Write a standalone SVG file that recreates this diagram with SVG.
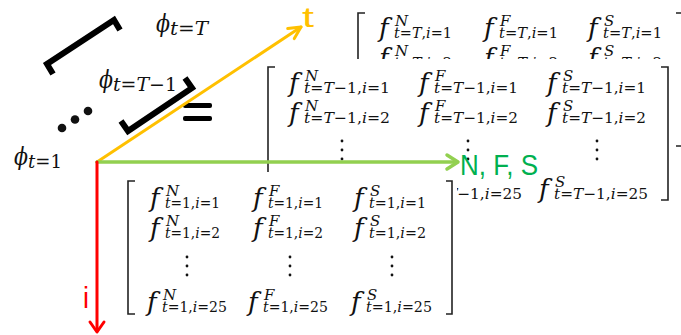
<svg xmlns="http://www.w3.org/2000/svg" width="681" height="335" viewBox="0 0 681 335">
<defs>
<style>
.f{font-family:"DejaVu Serif","Liberation Serif",serif;font-style:italic;font-size:26px;fill:#111}
.sc{font-family:"DejaVu Serif","Liberation Serif",serif;font-size:15px;fill:#111}
.ps{font-family:"DejaVu Serif","Liberation Serif",serif;font-size:19px;fill:#111}
.phi{font-family:"DejaVu Serif","Liberation Serif",serif;font-style:italic;font-size:25px;fill:#111}
.it{font-style:italic}
.br{fill:none;stroke:#222;stroke-width:1.6}
.big{fill:none;stroke:#000;stroke-width:6;stroke-linejoin:miter}
.dot{fill:#111}
.bg{fill:#fff}
.lab{font-family:"Liberation Sans","Open Sans",sans-serif}
</style>
</defs>
<rect width="681" height="335" fill="#fff"/>

<g id="stack">
<text class="phi" x="156" y="32" textLength="14" lengthAdjust="spacingAndGlyphs">ϕ</text><text class="ps" x="170" y="35" textLength="38" lengthAdjust="spacingAndGlyphs"><tspan class="it">t</tspan>=<tspan class="it">T</tspan></text>
<text class="phi" x="99" y="88" textLength="14" lengthAdjust="spacingAndGlyphs">ϕ</text><text class="ps" x="113" y="91" textLength="64" lengthAdjust="spacingAndGlyphs"><tspan class="it">t</tspan>=<tspan class="it">T</tspan>−1</text>
<text class="phi" x="14" y="165" textLength="14" lengthAdjust="spacingAndGlyphs">ϕ</text><text class="ps" x="28" y="168" textLength="34" lengthAdjust="spacingAndGlyphs"><tspan class="it">t</tspan>=1</text>
<polyline class="big" points="53,74 47,64 114,20 120,30"/>
<polyline class="big" points="121,121 128,131 192,88 185,78"/>
<circle class="dot" cx="62" cy="128" r="4.3"/>
<circle class="dot" cx="75" cy="119.5" r="4.3"/>
<circle class="dot" cx="88" cy="111" r="4.3"/>
<rect x="183" y="103" width="29" height="5" rx="2" fill="#000"/>
<rect x="183" y="116" width="29" height="5" rx="2" fill="#000"/>
</g>

<g id="matrix-T">
<path class="br" d="M365,13 H358 V146 H365"/>
<path class="br" d="M676,13 H682 V146 H676"/>
<text class="f" x="379" y="37">f</text><text class="sc it" x="395" y="26">N</text><text class="sc" x="394" y="38" textLength="58" lengthAdjust="spacingAndGlyphs"><tspan class="it">t</tspan>=<tspan class="it">T</tspan>,<tspan class="it">i</tspan>=1</text>
<text class="f" x="484" y="37">f</text><text class="sc it" x="500" y="26">F</text><text class="sc" x="499" y="38" textLength="59" lengthAdjust="spacingAndGlyphs"><tspan class="it">t</tspan>=<tspan class="it">T</tspan>,<tspan class="it">i</tspan>=1</text>
<text class="f" x="588" y="37">f</text><text class="sc it" x="604" y="26">S</text><text class="sc" x="603" y="38" textLength="59" lengthAdjust="spacingAndGlyphs"><tspan class="it">t</tspan>=<tspan class="it">T</tspan>,<tspan class="it">i</tspan>=1</text>
<text class="f" x="379" y="67">f</text><text class="sc it" x="395" y="56">N</text><text class="sc" x="394" y="68" textLength="58" lengthAdjust="spacingAndGlyphs"><tspan class="it">t</tspan>=<tspan class="it">T</tspan>,<tspan class="it">i</tspan>=2</text>
<text class="f" x="484" y="67">f</text><text class="sc it" x="500" y="56">F</text><text class="sc" x="499" y="68" textLength="59" lengthAdjust="spacingAndGlyphs"><tspan class="it">t</tspan>=<tspan class="it">T</tspan>,<tspan class="it">i</tspan>=2</text>
<text class="f" x="588" y="67">f</text><text class="sc it" x="604" y="56">S</text><text class="sc" x="603" y="68" textLength="59" lengthAdjust="spacingAndGlyphs"><tspan class="it">t</tspan>=<tspan class="it">T</tspan>,<tspan class="it">i</tspan>=2</text>
</g>

<g id="matrix-T-1">
<rect class="bg" x="262" y="59" width="411" height="147"/>
<path class="br" d="M275,67 H268 V200 H275"/>
<path class="br" d="M661,67 H668 V200 H661"/>
<text class="f" x="289" y="92">f</text><text class="sc it" x="305" y="81">N</text><text class="sc" x="304" y="93" textLength="86" lengthAdjust="spacingAndGlyphs"><tspan class="it">t</tspan>=<tspan class="it">T</tspan>−1,<tspan class="it">i</tspan>=1</text>
<text class="f" x="419" y="92">f</text><text class="sc it" x="435" y="81">F</text><text class="sc" x="434" y="93" textLength="84" lengthAdjust="spacingAndGlyphs"><tspan class="it">t</tspan>=<tspan class="it">T</tspan>−1,<tspan class="it">i</tspan>=1</text>
<text class="f" x="547" y="92">f</text><text class="sc it" x="563" y="81">S</text><text class="sc" x="562" y="93" textLength="84" lengthAdjust="spacingAndGlyphs"><tspan class="it">t</tspan>=<tspan class="it">T</tspan>−1,<tspan class="it">i</tspan>=1</text>
<text class="f" x="289" y="122">f</text><text class="sc it" x="305" y="111">N</text><text class="sc" x="304" y="123" textLength="86" lengthAdjust="spacingAndGlyphs"><tspan class="it">t</tspan>=<tspan class="it">T</tspan>−1,<tspan class="it">i</tspan>=2</text>
<text class="f" x="419" y="122">f</text><text class="sc it" x="435" y="111">F</text><text class="sc" x="434" y="123" textLength="84" lengthAdjust="spacingAndGlyphs"><tspan class="it">t</tspan>=<tspan class="it">T</tspan>−1,<tspan class="it">i</tspan>=2</text>
<text class="f" x="547" y="122">f</text><text class="sc it" x="563" y="111">S</text><text class="sc" x="562" y="123" textLength="84" lengthAdjust="spacingAndGlyphs"><tspan class="it">t</tspan>=<tspan class="it">T</tspan>−1,<tspan class="it">i</tspan>=2</text>
<circle class="dot" cx="342" cy="141" r="1.4"/><circle class="dot" cx="342" cy="150" r="1.4"/><circle class="dot" cx="342" cy="159" r="1.4"/>
<circle class="dot" cx="468" cy="141" r="1.4"/><circle class="dot" cx="468" cy="150" r="1.4"/><circle class="dot" cx="468" cy="159" r="1.4"/>
<circle class="dot" cx="597" cy="141" r="1.4"/><circle class="dot" cx="597" cy="150" r="1.4"/><circle class="dot" cx="597" cy="159" r="1.4"/>
<text class="f" x="283" y="198">f</text><text class="sc it" x="299" y="187">N</text><text class="sc" x="298" y="199" textLength="96" lengthAdjust="spacingAndGlyphs"><tspan class="it">t</tspan>=<tspan class="it">T</tspan>−1,<tspan class="it">i</tspan>=25</text>
<text class="f" x="413" y="198">f</text><text class="sc it" x="429" y="187">F</text><text class="sc" x="428" y="199" textLength="94" lengthAdjust="spacingAndGlyphs"><tspan class="it">t</tspan>=<tspan class="it">T</tspan>−1,<tspan class="it">i</tspan>=25</text>
<text class="f" x="539" y="198">f</text><text class="sc it" x="555" y="187">S</text><text class="sc" x="554" y="199" textLength="94" lengthAdjust="spacingAndGlyphs"><tspan class="it">t</tspan>=<tspan class="it">T</tspan>−1,<tspan class="it">i</tspan>=25</text>
</g>

<g id="matrix-1">
<rect class="bg" x="118" y="172" width="339" height="150"/>
<path class="br" d="M135,181 H128 V314 H135"/>
<path class="br" d="M446,181 H452 V314 H446"/>
<text class="f" x="150" y="207">f</text><text class="sc it" x="166" y="196">N</text><text class="sc" x="165" y="208" textLength="55" lengthAdjust="spacingAndGlyphs"><tspan class="it">t</tspan>=1,<tspan class="it">i</tspan>=1</text>
<text class="f" x="253" y="207">f</text><text class="sc it" x="269" y="196">F</text><text class="sc" x="268" y="208" textLength="55" lengthAdjust="spacingAndGlyphs"><tspan class="it">t</tspan>=1,<tspan class="it">i</tspan>=1</text>
<text class="f" x="354" y="207">f</text><text class="sc it" x="370" y="196">S</text><text class="sc" x="369" y="208" textLength="57" lengthAdjust="spacingAndGlyphs"><tspan class="it">t</tspan>=1,<tspan class="it">i</tspan>=1</text>
<text class="f" x="150" y="237">f</text><text class="sc it" x="166" y="226">N</text><text class="sc" x="165" y="238" textLength="55" lengthAdjust="spacingAndGlyphs"><tspan class="it">t</tspan>=1,<tspan class="it">i</tspan>=2</text>
<text class="f" x="253" y="237">f</text><text class="sc it" x="269" y="226">F</text><text class="sc" x="268" y="238" textLength="55" lengthAdjust="spacingAndGlyphs"><tspan class="it">t</tspan>=1,<tspan class="it">i</tspan>=2</text>
<text class="f" x="354" y="237">f</text><text class="sc it" x="370" y="226">S</text><text class="sc" x="369" y="238" textLength="57" lengthAdjust="spacingAndGlyphs"><tspan class="it">t</tspan>=1,<tspan class="it">i</tspan>=2</text>
<circle class="dot" cx="187" cy="257" r="1.4"/><circle class="dot" cx="187" cy="266" r="1.4"/><circle class="dot" cx="187" cy="275" r="1.4"/>
<circle class="dot" cx="290" cy="257" r="1.4"/><circle class="dot" cx="290" cy="266" r="1.4"/><circle class="dot" cx="290" cy="275" r="1.4"/>
<circle class="dot" cx="392" cy="257" r="1.4"/><circle class="dot" cx="392" cy="266" r="1.4"/><circle class="dot" cx="392" cy="275" r="1.4"/>
<text class="f" x="147" y="311">f</text><text class="sc it" x="163" y="300">N</text><text class="sc" x="162" y="312" textLength="65" lengthAdjust="spacingAndGlyphs"><tspan class="it">t</tspan>=1,<tspan class="it">i</tspan>=25</text>
<text class="f" x="248" y="311">f</text><text class="sc it" x="264" y="300">F</text><text class="sc" x="263" y="312" textLength="65" lengthAdjust="spacingAndGlyphs"><tspan class="it">t</tspan>=1,<tspan class="it">i</tspan>=25</text>
<text class="f" x="351" y="311">f</text><text class="sc it" x="367" y="300">S</text><text class="sc" x="366" y="312" textLength="66" lengthAdjust="spacingAndGlyphs"><tspan class="it">t</tspan>=1,<tspan class="it">i</tspan>=25</text>
</g>

<g id="axes" fill="none" stroke-linecap="round" stroke-linejoin="round">
<line x1="97" y1="162" x2="301" y2="27" stroke="#FFC000" stroke-width="3"/>
<polyline points="287.7,28.6 301,27 294.3,38.6" stroke="#FFC000" stroke-width="3"/>
<line x1="97" y1="162" x2="457" y2="162" stroke="#92D050" stroke-width="3.5"/>
<polyline points="447,155 458,162 447,169" stroke="#92D050" stroke-width="3.5"/>
<line x1="97" y1="162" x2="97" y2="331" stroke="#FF0000" stroke-width="3"/>
<polyline points="90,322 97,332 104,322" stroke="#FF0000" stroke-width="3"/>
</g>
<g id="axis-labels" class="lab">
<text x="302" y="27" font-size="28" fill="#FFC000" textLength="12" lengthAdjust="spacingAndGlyphs">t</text>
<text x="460" y="175" font-size="30" fill="#00B050" textLength="78" lengthAdjust="spacingAndGlyphs">N, F, S</text>
<text x="83" y="308" font-size="29" fill="#FF0000" textLength="6" lengthAdjust="spacingAndGlyphs">i</text>
</g>
</svg>
